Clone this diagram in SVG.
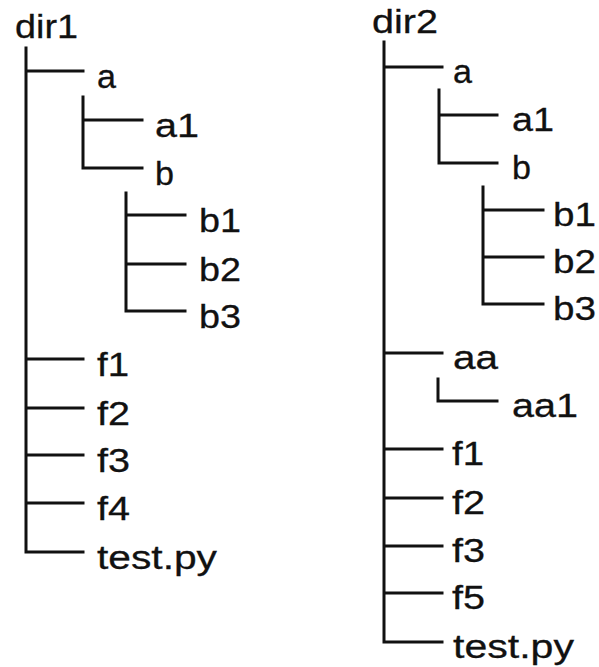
<svg xmlns="http://www.w3.org/2000/svg" width="599" height="667" viewBox="0 0 599 667">
<style>
.t{font-family:"Liberation Sans",Arial,sans-serif;font-size:34px;fill:#111;stroke:#111;stroke-width:0.3;}
.c{stroke:#111;stroke-width:3;fill:none;stroke-linecap:square;}
</style>
<rect width="599" height="667" fill="#fff"/>
<g id="connectors">
<path class="c" d="M26 48V552M26 71H83M26 359H83M26 408H83M26 455H83M26 503H83M26 552H83"/>
<path class="c" d="M83 97V168M83 120H142M83 168H142"/>
<path class="c" d="M126 193V311M126 215H185M126 264H185M126 311H185"/>
<path class="c" d="M384 42V642M384 67H442M384 353H442M384 449H442M384 498H442M384 546H442M384 593H442M384 642H442"/>
<path class="c" d="M439 90V163M439 115H497M439 163H497"/>
<path class="c" d="M483 187V304M483 210H543M483 257H543M483 304H543"/>
<path class="c" d="M438 379V401M438 401H497"/>
</g>
<g id="dir1"><text class="t" x="15" y="38" textLength="63" lengthAdjust="spacingAndGlyphs">dir1</text></g>
<g id="d1-a"><text class="t" x="97" y="88" textLength="19" lengthAdjust="spacingAndGlyphs">a</text></g>
<g id="d1-a1"><text class="t" x="155" y="137" textLength="44" lengthAdjust="spacingAndGlyphs">a1</text></g>
<g id="d1-b"><text class="t" x="155" y="185" textLength="19" lengthAdjust="spacingAndGlyphs">b</text></g>
<g id="d1-b1"><text class="t" x="199" y="232" textLength="42" lengthAdjust="spacingAndGlyphs">b1</text></g>
<g id="d1-b2"><text class="t" x="199" y="281" textLength="42" lengthAdjust="spacingAndGlyphs">b2</text></g>
<g id="d1-b3"><text class="t" x="199" y="328" textLength="42" lengthAdjust="spacingAndGlyphs">b3</text></g>
<g id="d1-f1"><text class="t" x="97" y="376" textLength="32" lengthAdjust="spacingAndGlyphs">f1</text></g>
<g id="d1-f2"><text class="t" x="97" y="425" textLength="33" lengthAdjust="spacingAndGlyphs">f2</text></g>
<g id="d1-f3"><text class="t" x="97" y="472" textLength="33" lengthAdjust="spacingAndGlyphs">f3</text></g>
<g id="d1-f4"><text class="t" x="97" y="520" textLength="33" lengthAdjust="spacingAndGlyphs">f4</text></g>
<g id="d1-test"><text class="t" x="97" y="569" textLength="120" lengthAdjust="spacingAndGlyphs">test.py</text></g>
<g id="dir2"><text class="t" x="372" y="33" textLength="66" lengthAdjust="spacingAndGlyphs">dir2</text></g>
<g id="d2-a"><text class="t" x="453" y="83" textLength="19" lengthAdjust="spacingAndGlyphs">a</text></g>
<g id="d2-a1"><text class="t" x="512" y="131" textLength="42" lengthAdjust="spacingAndGlyphs">a1</text></g>
<g id="d2-b"><text class="t" x="512" y="179" textLength="19" lengthAdjust="spacingAndGlyphs">b</text></g>
<g id="d2-b1"><text class="t" x="553" y="226" textLength="43" lengthAdjust="spacingAndGlyphs">b1</text></g>
<g id="d2-b2"><text class="t" x="553" y="273" textLength="43" lengthAdjust="spacingAndGlyphs">b2</text></g>
<g id="d2-b3"><text class="t" x="553" y="320" textLength="43" lengthAdjust="spacingAndGlyphs">b3</text></g>
<g id="d2-aa"><text class="t" x="453" y="369" textLength="45" lengthAdjust="spacingAndGlyphs">aa</text></g>
<g id="d2-aa1"><text class="t" x="512" y="417" textLength="66" lengthAdjust="spacingAndGlyphs">aa1</text></g>
<g id="d2-f1"><text class="t" x="452" y="465" textLength="32" lengthAdjust="spacingAndGlyphs">f1</text></g>
<g id="d2-f2"><text class="t" x="452" y="514" textLength="33" lengthAdjust="spacingAndGlyphs">f2</text></g>
<g id="d2-f3"><text class="t" x="452" y="562" textLength="33" lengthAdjust="spacingAndGlyphs">f3</text></g>
<g id="d2-f5"><text class="t" x="452" y="609" textLength="33" lengthAdjust="spacingAndGlyphs">f5</text></g>
<g id="d2-test"><text class="t" x="453" y="658" textLength="121" lengthAdjust="spacingAndGlyphs">test.py</text></g>
</svg>
